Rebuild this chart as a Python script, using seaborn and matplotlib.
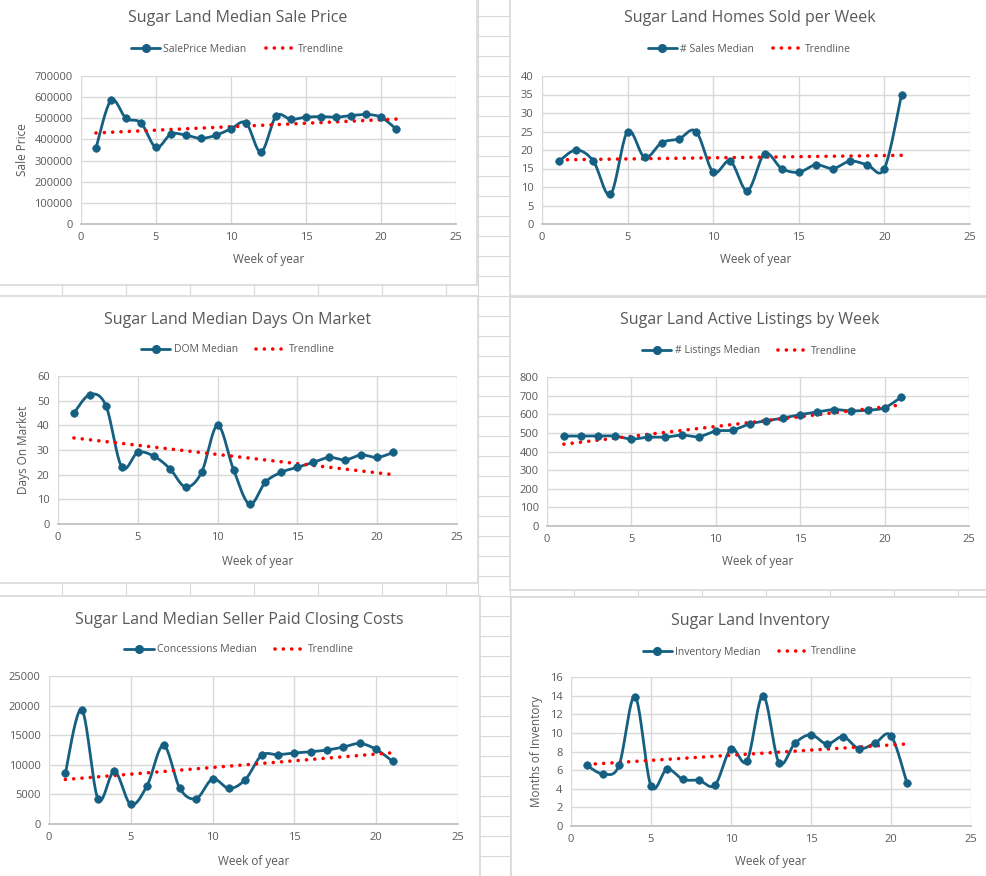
import numpy as np
import pandas as pd
import matplotlib
matplotlib.use("Agg")
import matplotlib.pyplot as plt
from matplotlib.lines import Line2D
from matplotlib.patches import Rectangle
import seaborn as sns

# Estilo base
sns.set_theme(style="white")
plt.rcParams['font.family'] = ['Open Sans', 'DejaVu Sans']

# Datos
semanas = list(range(1, 22))
precio_venta = [360000, 585000, 500000, 478000, 362000, 425000, 420000, 405000, 420000, 450000,
                478000, 340000, 510000, 495000, 505000, 508000, 505000, 513000, 518000, 505000, 450000]
ventas = [17, 20, 17, 8, 25, 18, 22, 23, 25, 14, 17, 9, 19, 15, 14, 16, 15, 17, 16, 15, 35]
dias_mercado = [45, 52.5, 48, 23, 29, 27.5, 22.5, 15, 21, 40, 22, 8, 17, 21, 23, 25, 27, 26, 28, 27, 29]
listados = [483, 483, 483, 483, 467, 477, 477, 488, 480, 510, 515, 548, 565, 580, 598, 612, 625,
            618, 622, 635, 693]
concesiones = [8600, 19300, 4200, 8900, 3300, 6500, 13300, 6000, 4300, 7600, 6000, 7500, 11600,
               11700, 12000, 12200, 12500, 13000, 13600, 12600, 10600]
inventario = [6.5, 5.6, 6.5, 13.9, 4.3, 6.1, 5.0, 4.9, 4.4, 8.3, 7.0, 14.0, 6.8, 8.9, 9.8, 8.8,
              9.6, 8.3, 8.9, 9.7, 4.6]

W, H = 987, 876
AZUL = '#156082'
ROJO = '#ff0000'
GRIS_TXT = '#595959'
GRID = '#d9d9d9'

fig = plt.figure(figsize=(W / 100, H / 100), dpi=100)
fig.patch.set_facecolor('white')


def fx(x):
    return x / W


def fy(y):
    return 1 - y / H


# Celdas de la hoja de calculo de fondo
for y in range(16, H, 20):
    fig.add_artist(Line2D([0, 1], [fy(y), fy(y)], color=GRID, lw=0.8, zorder=-5))
for x in list(range(62, 480, 64)) + list(range(510, W, 64)) + [478]:
    fig.add_artist(Line2D([fx(x), fx(x)], [0, 1], color=GRID, lw=0.8, zorder=-5))

# Cajas de los graficos (x0, y0, x1, y1) en pixeles
cajas = [(-2, -2, 477, 285), (510, -2, 989, 296),
         (-2, 296, 478, 583), (510, 297, 989, 590),
         (-2, 596, 480, 878), (511, 597, 989, 878)]
for x0, y0, x1, y1 in cajas:
    fig.add_artist(Rectangle((fx(x0), fy(y1)), fx(x1 - x0), (y1 - y0) / H,
                             facecolor='white', edgecolor=GRID, lw=1.2, zorder=-2,
                             transform=fig.transFigure))


def suavizar(x, y, n=20):
    # curva suave tipo Excel (Catmull-Rom) que pasa por los puntos
    x = np.asarray(x, float)
    y = np.asarray(y, float)
    px = np.concatenate([[x[0]], x, [x[-1]]])
    py = np.concatenate([[y[0]], y, [y[-1]]])
    xs, ys = [], []
    t = np.linspace(0, 1, n, endpoint=False)
    for i in range(1, len(px) - 2):
        for p, out in ((px, xs), (py, ys)):
            p0, p1, p2, p3 = p[i - 1], p[i], p[i + 1], p[i + 2]
            c1 = p1 + (p2 - p0) / 6
            c2 = p2 - (p3 - p1) / 6
            out.extend((1 - t) ** 3 * p1 + 3 * (1 - t) ** 2 * t * c1 + 3 * (1 - t) * t ** 2 * c2 + t ** 3 * p2)
    xs.append(x[-1])
    ys.append(y[-1])
    return np.array(xs), np.array(ys)


def grafico(rect, valores, titulo, etiqueta, ymax, ystep, ylabel=None, ylabel_x=None,
            caja=None, titulo_y=0, leyenda_y=0, xlabel_y=0):
    left, right, top, bottom = rect
    ax = fig.add_axes([fx(left), fy(bottom), fx(right - left), (bottom - top) / H])
    ax.set_facecolor('none')
    df = pd.DataFrame({'semana': semanas, 'valor': valores})

    # linea de tendencia lineal
    m, b = np.polyfit(df['semana'], df['valor'], 1)
    tx = np.array([1, 21])
    ax.plot(tx, m * tx + b, color=ROJO, lw=2.6, linestyle=(0, (0.01, 2.3)),
            dash_capstyle='round', zorder=3)

    sx, sy = suavizar(df['semana'], df['valor'])
    sns.lineplot(x=sx, y=sy, ax=ax, color=AZUL, lw=2, zorder=2, sort=False)
    sns.scatterplot(data=df, x='semana', y='valor', ax=ax, color=AZUL, s=30,
                    edgecolor=AZUL, zorder=4)

    ax.set_xlim(0, 25)
    ax.set_ylim(0, ymax)
    ax.set_xticks(range(0, 26, 5))
    ax.set_yticks(np.arange(0, ymax + ystep / 2, ystep))
    ax.grid(True, color=GRID, lw=1)
    ax.set_axisbelow(True)
    for s in ['left', 'top', 'right']:
        ax.spines[s].set_visible(False)
    ax.spines['bottom'].set_color('#bfbfbf')
    ax.tick_params(axis='both', labelsize=8, colors=GRIS_TXT, length=0, pad=6)
    ax.yaxis.set_major_formatter(matplotlib.ticker.FuncFormatter(lambda v, p: f'{v:g}'))

    ax.set_xlabel('Week of year', fontsize=8.5, color=GRIS_TXT, va='center')
    ax.xaxis.set_label_coords(0.5, -(xlabel_y - bottom) / (bottom - top))
    if ylabel:
        ax.set_ylabel(ylabel, fontsize=8.5, color=GRIS_TXT, va='center')
        ax.yaxis.set_label_coords(-(left - ylabel_x) / (right - left), 0.5)
    else:
        ax.set_ylabel('')

    cx = (caja[0] + caja[2]) / 2
    fig.text(fx(cx), fy(titulo_y), titulo, ha='center', va='center', fontsize=11.5,
             color=GRIS_TXT)
    handles = [Line2D([0], [0], color=AZUL, lw=2, marker='o', markersize=5.5),
               Line2D([0], [0], color=ROJO, lw=2.6, linestyle=(0, (0.01, 2.3)),
                      dash_capstyle='round')]
    fig.legend(handles, [etiqueta, 'Trendline'], loc='center', ncol=2, frameon=False,
               bbox_to_anchor=(fx(cx), fy(leyenda_y)), fontsize=7.5, labelcolor=GRIS_TXT,
               handlelength=2.8, handletextpad=0.3, columnspacing=1.8)
    return ax


grafico((81, 456, 76, 224), precio_venta, 'Sugar Land Median Sale Price', 'SalePrice Median',
        700000, 100000, 'Sale Price', 22, cajas[0], 18, 49, 260)
grafico((542, 970, 76, 224), ventas, 'Sugar Land Homes Sold per Week', '# Sales Median',
        40, 5, None, None, cajas[1], 18, 49, 260)
grafico((58, 457, 376, 524), dias_mercado, 'Sugar Land Median Days On Market', 'DOM Median',
        60, 10, 'Days On Market', 23, cajas[2], 320, 350, 561)
grafico((547, 969, 377, 526), listados, 'Sugar Land Active Listings by Week', '# Listings Median',
        800, 100, None, None, cajas[3], 320, 351, 562)
grafico((49, 458, 676, 824), concesiones, 'Sugar Land Median Seller Paid Closing Costs',
        'Concessions Median', 25000, 5000, None, None, cajas[4], 620, 650, 861)
grafico((571, 971, 677, 826), inventario, 'Sugar Land Inventory', 'Inventory Median',
        16, 2, 'Months of Inventory', 537, cajas[5], 621, 652, 861)

plt.savefig('out.png', dpi=100, facecolor='white')
plt.close()
